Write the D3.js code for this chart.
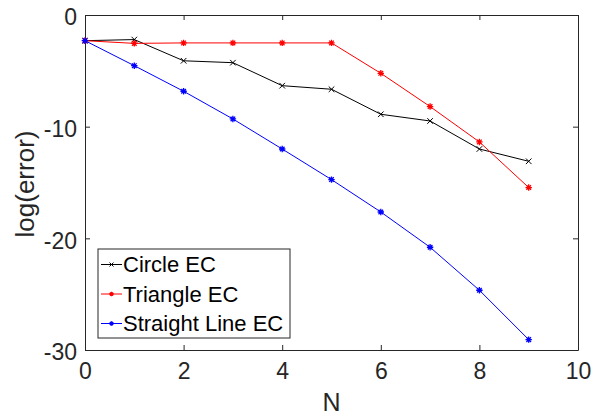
<!DOCTYPE html>
<html>
<head>
<meta charset="utf-8">
<script src="https://cdn.jsdelivr.net/npm/d3@7"></script>
<style>
  html, body { margin: 0; padding: 0; background: #fff; }
  svg { display: block; font-family: "Liberation Sans", Arial, sans-serif; }
</style>
</head>
<body>
<svg id="chart" width="600" height="418"></svg>
<script>
// Convergence of the error for three edge conditions
const orders = [0, 1, 2, 3, 4, 5, 6, 7, 8, 9];
const circleEC = [-2.3, -2.2, -4.1, -4.27, -6.33, -6.65, -8.89, -9.49, -12.0, -13.1];
const triangleEC = [-2.3, -2.54, -2.5, -2.5, -2.5, -2.5, -5.22, -8.2, -11.37, -15.45];
const straightLineEC = [-2.3, -4.54, -6.83, -9.31, -12.0, -14.74, -17.64, -20.8, -24.65, -29.07];
const seriesNames = ["Circle EC", "Triangle EC", "Straight Line EC"];
const xTicks = [0, 2, 4, 6, 8, 10];
const yTicks = [0, -10, -20, -30];

const svg = d3.select("#chart");
const margin = { left: 85, top: 15, right: 22, bottom: 68 };
const W = 600, H = 418;
const x = d3.scaleLinear().domain([0, 10]).range([margin.left, W - margin.right]);
const y = d3.scaleLinear().domain([-30, 0]).range([H - margin.bottom, margin.top]);
const axisColor = "#262626";
const plainNumber = d => String(d);

const series = [
  { name: seriesNames[0], values: circleEC, color: "#000000", marker: "x" },
  { name: seriesNames[1], values: triangleEC, color: "#ff0000", marker: "star" },
  { name: seriesNames[2], values: straightLineEC, color: "#0000ff", marker: "star" }
];

// Axes with inward ticks on all four sides
const tickLen = 5;
const gx = svg.append("g").attr("transform", `translate(0,${y(-30)})`)
  .call(d3.axisBottom(x).tickValues(xTicks).tickFormat(plainNumber)
    .tickSizeInner(-tickLen).tickSizeOuter(0).tickPadding(13));
const gxTop = svg.append("g").attr("transform", `translate(0,${y(0)})`)
  .call(d3.axisTop(x).tickValues(xTicks).tickSizeInner(-tickLen).tickSizeOuter(0).tickFormat(""));
const gy = svg.append("g").attr("transform", `translate(${x(0)},0)`)
  .call(d3.axisLeft(y).tickValues(yTicks).tickFormat(plainNumber)
    .tickSizeInner(-tickLen).tickSizeOuter(0).tickPadding(8));
const gyRight = svg.append("g").attr("transform", `translate(${x(10)},0)`)
  .call(d3.axisRight(y).tickValues(yTicks).tickSizeInner(-tickLen).tickSizeOuter(0).tickFormat(""));

[gx, gxTop, gy, gyRight].forEach(g => {
  g.select(".domain").attr("stroke", axisColor).attr("stroke-width", 1);
  g.selectAll(".tick line").attr("stroke", axisColor);
  g.selectAll(".tick text").attr("fill", axisColor).attr("font-size", 23)
    .attr("font-family", "Liberation Sans, Arial, sans-serif");
});
gy.selectAll(".tick text").attr("dy", "0.42em");

// Axis titles
svg.append("text")
  .attr("x", (x(0) + x(10)) / 2).attr("y", 411)
  .attr("text-anchor", "middle").attr("font-size", 25).attr("fill", axisColor)
  .text("N");
svg.append("text")
  .attr("transform", `translate(34,184) rotate(-90)`)
  .attr("text-anchor", "middle").attr("font-size", 26).attr("fill", axisColor)
  .text("log(error)");

// Marker drawing helpers
function drawMarker(g, type, cx, cy, color, s) {
  if (type === "x") {
    g.append("path")
      .attr("d", `M${cx - s},${cy - s}L${cx + s},${cy + s}M${cx - s},${cy + s}L${cx + s},${cy - s}`)
      .attr("stroke", color).attr("stroke-width", 1).attr("fill", "none");
  } else {
    const d = s * 0.72;
    g.append("path")
      .attr("d", `M${cx - s},${cy}L${cx + s},${cy}M${cx},${cy - s}L${cx},${cy + s}` +
                 `M${cx - d},${cy - d}L${cx + d},${cy + d}M${cx - d},${cy + d}L${cx + d},${cy - d}`)
      .attr("stroke", color).attr("stroke-width", 1.3).attr("fill", "none");
  }
}

const line = d3.line().x((d, i) => x(orders[i])).y(d => y(d));
const plot = svg.append("g");
series.forEach(s => {
  plot.append("path").datum(s.values)
    .attr("d", line).attr("fill", "none")
    .attr("stroke", s.color).attr("stroke-width", 1);
});
series.forEach(s => {
  const g = plot.append("g");
  s.values.forEach((v, i) => drawMarker(g, s.marker, x(orders[i]), y(v), s.color, s.marker === "x" ? 2.8 : 3.2));
});

// Legend
const lg = svg.append("g");
const lx = 98, ly = 249, lw = 192, lh = 89;
lg.append("rect").attr("x", lx).attr("y", ly).attr("width", lw).attr("height", lh)
  .attr("fill", "#fff").attr("stroke", axisColor).attr("stroke-width", 1);
series.forEach((s, i) => {
  const cy = ly + 15.5 + i * 29.5;
  lg.append("line").attr("x1", lx + 3).attr("x2", lx + 24).attr("y1", cy).attr("y2", cy)
    .attr("stroke", s.color).attr("stroke-width", 1);
  drawMarker(lg, s.marker, lx + 13.5, cy, s.color, s.marker === "x" ? 2 : 2.2);
  lg.append("text").attr("x", lx + 25).attr("y", cy).attr("dy", "0.36em")
    .attr("font-size", 22).attr("fill", "#000").text(s.name);
});
</script>
</body>
</html>
